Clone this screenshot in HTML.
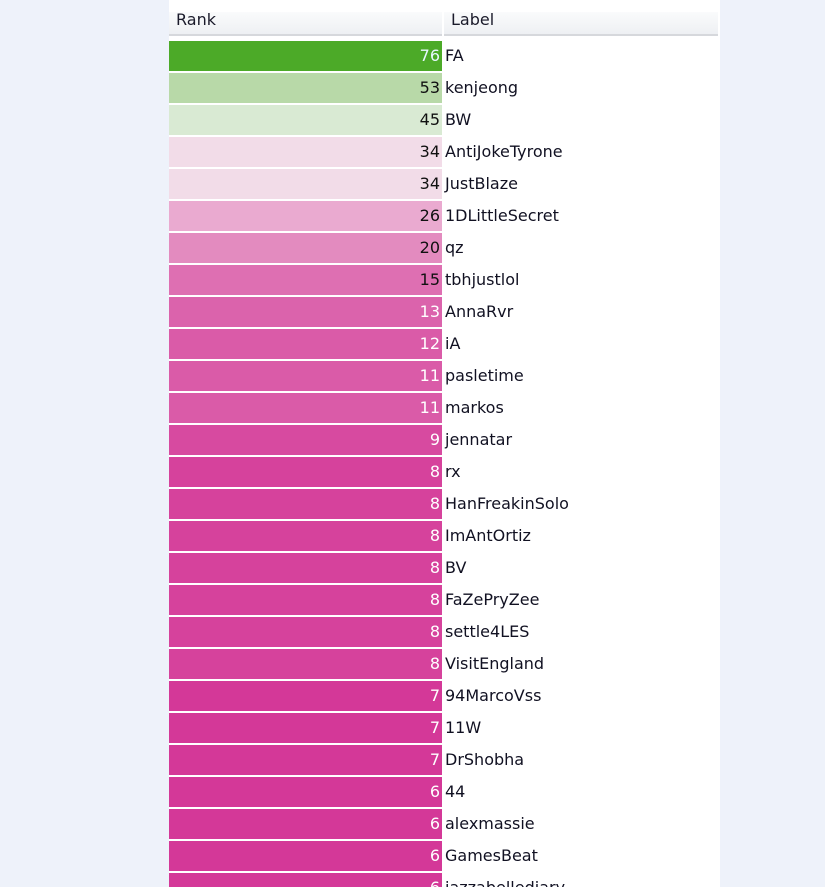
<!DOCTYPE html>
<html style="overflow:hidden;height:887px"><head><meta charset="utf-8"><style>
html,body{margin:0;width:825px;height:887px;overflow:hidden}
body{background:#eef2fa;font-family:"DejaVu Sans","Liberation Sans",sans-serif;font-size:16px;position:relative}
#tbl{position:absolute;left:169px;top:0;width:551px;height:887px;background:#fff;overflow:hidden}
.hdr{position:absolute;top:12px;height:24px;background:linear-gradient(#fafbfc,#eef0f3);border-bottom:2px solid #d6d8dc;color:#1a1a2a;line-height:16px;padding-left:7px;box-sizing:border-box}
.bar{position:absolute;left:0;width:273px;height:30px;text-align:right;line-height:30px;padding-right:2px;box-sizing:border-box}
.lab{position:absolute;left:276px;height:30px;line-height:30px;color:#111122;white-space:nowrap}
</style></head><body>
<div id="tbl">
<div class="hdr" style="left:0;width:273px">Rank</div>
<div class="hdr" style="left:275px;width:274px">Label</div>
<div id="rows"></div>
</div>
<script>
const labels=["FA","kenjeong","BW","AntiJokeTyrone","JustBlaze","1DLittleSecret","qz","tbhjustlol","AnnaRvr","iA","pasletime","markos","jennatar","rx","HanFreakinSolo","ImAntOrtiz","BV","FaZePryZee","settle4LES","VisitEngland","94MarcoVss","11W","DrShobha","44","alexmassie","GamesBeat","jazzabellediary"];
const ranks=[76,53,45,34,34,26,20,15,13,12,11,11,9,8,8,8,8,8,8,8,7,7,7,6,6,6,6];
function colorFor(v){
  if(v>=70)return["#4caa28","#e8f8ff"];
  if(v>=50)return["#b8d9a8","#111"];
  if(v>=40)return["#d9ead3","#111"];
  if(v>=30)return["#f2dce8","#111"];
  if(v>=24)return["#eaaad0","#111"];
  if(v>=18)return["#e38bbf","#111"];
  if(v>=14)return["#de6fb2","#111"];
  if(v>=13)return["#db63ac","#fff"];
  if(v>=10)return["#da5ba8","#fff"];
  if(v>=9)return["#d74aa0","#fff"];
  if(v>=8)return["#d6429c","#fff"];
  return["#d43898","#fff"];
}
const rows=document.getElementById('rows');
ranks.forEach((v,i)=>{
  const y=41+i*32;const c=colorFor(v);
  const b=document.createElement('div');
  
  
  b.className='bar';b.style.top=y+'px';b.style.background=c[0];b.style.color=c[1];b.textContent=v;
  rows.appendChild(b);
  const l=document.createElement('div');
  
  
  l.className='lab';l.style.top=y+'px';l.textContent=labels[i];
  rows.appendChild(l);
});
</script>
</body></html>
